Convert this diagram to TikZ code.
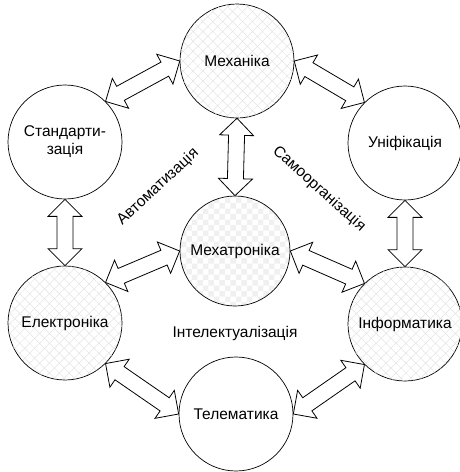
\documentclass[tikz,border=0pt]{standalone}
\usepackage{fontspec}
\setmainfont{Liberation Sans}
\usetikzlibrary{calc,patterns,patterns.meta}

\tikzset{
  field/.style={circle, draw, line width=0.7pt, minimum size=114pt, inner sep=0pt,
    align=center, font=\fontsize{15.5}{18}\selectfont},
  hatched/.style={field,
    pattern={Lines[angle=45,distance=7pt,line width=0.5pt]}, pattern color=gray!22,
    postaction={pattern={Lines[angle=-45,distance=7pt,line width=0.5pt]}, pattern color=gray!22}},
  checked/.style={field, pattern=checkerboard, pattern color=gray!12},
  blockarrow/.style={draw, fill=white, line width=0.8pt, line join=miter},
  tag/.style={font=\fontsize{15.5}{18}\selectfont}
}

% double block arrow between two border points
\newcommand{\twoway}[2]{%
  \coordinate (ha) at ($(#1)!17pt!(#2)$);
  \coordinate (hb) at ($(#2)!17pt!(#1)$);
  \draw[blockarrow] (#1) -- ($(ha)!17pt!90:(#2)$) -- ($(ha)!8pt!90:(#2)$)
    -- ($(hb)!8pt!-90:(#1)$) -- ($(hb)!17pt!-90:(#1)$) -- (#2)
    -- ($(hb)!17pt!90:(#1)$) -- ($(hb)!8pt!90:(#1)$)
    -- ($(ha)!8pt!-90:(#2)$) -- ($(ha)!17pt!-90:(#2)$) -- cycle;
}

\begin{document}
\begin{tikzpicture}[x=1pt, y=-1pt]
  \useasboundingbox (0,0) rectangle (460,472);

  \node[hatched] (meh) at (237,61) {Механіка};
  \node[checked, minimum size=110pt] (mex) at (235,251) {Мехатроніка};
  \node[field] (std) at (65,142) {Стандарти-\\зація};
  \node[field] (uni) at (405,143) {Уніфікація};
  \node[hatched] (ele) at (65,323) {Електроніка};
  \node[hatched] (inf) at (405,324) {Інформатика};
  \node[field] (tel) at (236,414) {Телематика};

  \node[tag, rotate=43] (avt) at (158,187) {Автоматизація};
  \node[tag, rotate=-42] (sam) at (319,189) {Самоорганізація};
  \node[tag] (int) at (235,333) {Інтелектуалізація};

  \twoway{std.north east}{meh.west}
  \twoway{meh.east}{uni.north west}
  \twoway{std.south}{ele.north}
  \twoway{uni.south}{inf.north}
  \twoway{meh.south}{mex.north}
  \twoway{ele.north east}{mex.west}
  \twoway{mex.east}{inf.north west}
  \twoway{ele.south east}{tel.west}
  \twoway{tel.east}{inf.south west}
\end{tikzpicture}
\end{document}
